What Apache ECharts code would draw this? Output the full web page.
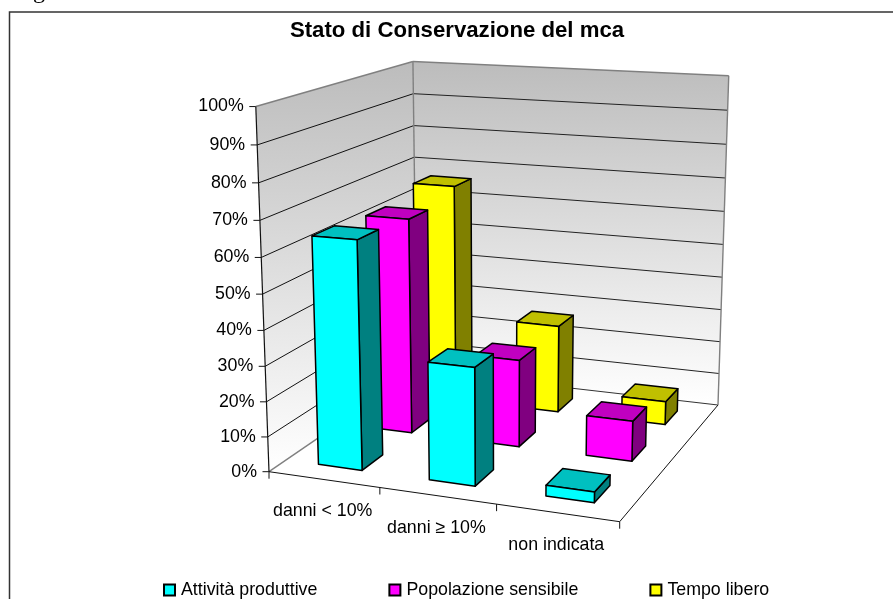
<!DOCTYPE html>
<html><head><meta charset="utf-8">
<style>html,body{margin:0;padding:0;background:#fff;overflow:hidden}#c{width:893px;height:599px}</style>
<script src="https://cdn.jsdelivr.net/npm/echarts@6/dist/echarts.min.js"></script>
</head><body><div id="c"></div>
<script>
const categories = ['danni < 10%', 'danni ≥ 10%', 'non indicata'];
const seriesNames = ['Attività produttive', 'Popolazione sensibile', 'Tempo libero'];
const attivita = [64.5, 33, 3];
const popolazione = [63.3, 25.5, 11.6];
const tempo = [66.5, 26.6, 7];
const yTicks = [0, 10, 20, 30, 40, 50, 60, 70, 80, 90, 100];

const FONT = '"Liberation Sans", Arial, sans-serif';
const FS = 17.8;
const BOX = 300;                 // size of the hidden grid that holds the scales
const BAR = 0.40, DEPTH = 0.40;  // share of a category / row a bar takes
const palette = [
  {front:'#00ffff', side:'#008080', top:'#00c0c0'},
  {front:'#ff00ff', side:'#800080', top:'#c000c0'},
  {front:'#ffff00', side:'#808000', top:'#c0c000'}
];
// view calibration: where the plot box corners land on the page
const A=[269,471.7], B=[619.7,521.7], D=[718,405], C=[417,370.4];
const At=[255,106.7], Ct=[414,60.3], Dt=[728.3,77];

function makeProjection(){
  const [x0,y0]=A,[x1,y1]=B,[x2,y2]=D,[x3,y3]=C;
  const dx1=x1-x2,dx2=x3-x2,sx=x0-x1+x2-x3,dy1=y1-y2,dy2=y3-y2,sy=y0-y1+y2-y3;
  const den=dx1*dy2-dx2*dy1, g=(sx*dy2-dx2*sy)/den, h=(dx1*sy-sx*dy1)/den;
  const a=x1-x0+g*x1,b=x3-x0+h*x3,c=x0,d=y1-y0+g*y1,e=y3-y0+h*y3,f=y0;
  // solve the height column by least squares from the three known top corners
  const rows=[],rhs=[];
  [[0,0,At],[0,1,Ct],[1,1,Dt]].forEach(([s,t,P])=>{
    const u=a*s+b*t+c,v=d*s+e*t+f,w=g*s+h*t+1;
    rows.push([1,0,-P[0]]);rhs.push(P[0]*w-u);
    rows.push([0,1,-P[1]]);rhs.push(P[1]*w-v);
  });
  const M=[0,1,2].map(i=>[0,1,2].map(j=>rows.reduce((q,r)=>q+r[i]*r[j],0)).concat(rows.reduce((q,r,k)=>q+r[i]*rhs[k],0)));
  for(let i=0;i<3;i++){
    let p=i;for(let k=i+1;k<3;k++)if(Math.abs(M[k][i])>Math.abs(M[p][i]))p=k;
    [M[i],M[p]]=[M[p],M[i]];
    for(let k=0;k<3;k++)if(k!==i){const m=M[k][i]/M[i][i];for(let j=i;j<4;j++)M[k][j]-=m*M[i][j];}
  }
  const zu=M[0][3]/M[0][0],zv=M[1][3]/M[1][1],zw=M[2][3]/M[2][2];
  return (s,t,z)=>{const w=g*s+h*t+1+zw*z;return [(a*s+b*t+c+zu*z)/w,(d*s+e*t+f+zv*z)/w];};
}
const P=makeProjection();

function poly(points,fill,stroke,lw){
  return {type:'polygon',shape:{points},style:{fill,stroke:stroke||'#000',lineWidth:lw==null?1.5:lw,lineJoin:'round'}};
}
function seg(p,q,stroke,lw){
  return {type:'line',shape:{x1:p[0],y1:p[1],x2:q[0],y2:q[1]},style:{stroke,lineWidth:lw||1,fill:null}};
}
function label(text,x,y,align){
  return {type:'text',x,y,style:{text,fill:'#000',font:FS+'px '+FONT,align,verticalAlign:'middle'}};
}

function renderBar(rowIndex){
  return function(params,api){
    const pt=api.coord([api.value(0),api.value(1)]);
    const catW=api.size([1,0])[0]/BOX;
    const sc=pt[0]/BOX, h=1-pt[1]/BOX;
    const s0=sc-catW*BAR/2,s1=sc+catW*BAR/2;
    const t0=(rowIndex+0.5-DEPTH/2)/3,t1=(rowIndex+0.5+DEPTH/2)/3;
    const c=palette[rowIndex];
    return {type:'group',children:[
      poly([P(s1,t0,0),P(s1,t1,0),P(s1,t1,h),P(s1,t0,h)],c.side),
      poly([P(s0,t0,h),P(s1,t0,h),P(s1,t1,h),P(s0,t1,h)],c.top),
      poly([P(s0,t0,0),P(s1,t0,0),P(s1,t0,h),P(s0,t0,h)],c.front)
    ]};
  };
}

function renderFrame(params,api){
  const ch=[];
  const wall=()=>new echarts.graphic.LinearGradient(0,0,0,1,[{offset:0,color:'#bcbcbc'},{offset:1,color:'#ffffff'}]);
  ch.push({type:'polygon',shape:{points:[P(0,0,0),P(0,1,0),P(0,1,1),P(0,0,1)]},style:{fill:wall()}});
  ch.push({type:'polygon',shape:{points:[P(0,1,0),P(1,1,0),P(1,1,1),P(0,1,1)]},style:{fill:wall()}});
  yTicks.forEach(v=>{
    const z=1-api.coord([0,v])[1]/BOX;
    if(v>0&&v<100){
      ch.push(seg(P(0,0,z),P(0,1,z),'#111',1));
      ch.push(seg(P(0,1,z),P(1,1,z),'#222',1));
    }
    const q=P(0,0,z);
    ch.push(seg([q[0]-6.5,q[1]],q,'#111',1));
    ch.push(label(v+'%',q[0]-12,q[1],'right'));
  });
  ch.push(seg(P(0,1,0),P(1,1,0),'#333',1));
  ch.push(seg(P(0,0,1),P(0,1,1),'#808080',1.6));
  ch.push(seg(P(0,1,1),P(1,1,1),'#808080',1.6));
  ch.push(seg(P(0,1,0),P(0,1,1),'#808080',1.4));
  ch.push(seg(P(1,1,0),P(1,1,1),'#808080',1.4));
  ch.push(seg(P(0,0,0),P(0,1,0),'#808080',1.4));
  ch.push(seg(P(0,0,0),P(0,0,1),'#111',1.2));
  ch.push(seg(P(0,0,0),P(1,0,0),'#111',1));
  ch.push(seg(P(1,0,0),P(1,1,0),'#111',1));
  const n=categories.length;
  for(let i=0;i<=n;i++){
    const q=P(i/n,0,0);
    ch.push(seg(q,[q[0],q[1]+7],'#111',1));
  }
  categories.forEach((name,i)=>{
    const sc=api.coord([i,0])[0]/BOX;
    const q=P(sc,0,0);
    ch.push(label(name,q[0]-1,q[1]+32,'center'));
  });
  return {type:'group',children:ch};
}

const rows=[attivita,popolazione,tempo];
const series=rows.map((vals,i)=>({
  type:'custom',name:seriesNames[i],z:5-i,clip:false,
  coordinateSystem:'cartesian2d',
  encode:{x:0,y:1},
  itemStyle:{color:palette[i].front,borderColor:'#000',borderWidth:1.5},
  renderItem:renderBar(i),
  data:vals.map((v,k)=>[k,v])
}));
series.unshift({type:'custom',name:'frame',z:1,silent:true,clip:false,coordinateSystem:'cartesian2d',
  encode:{x:0,y:1},renderItem:renderFrame,data:[[0,0]]});

const chart=echarts.init(document.getElementById('c'),null,{renderer:'canvas'});
chart.setOption({
  animation:false,
  backgroundColor:'#ffffff',
  title:{text:'Stato di Conservazione del mca',left:452,top:15,textAlign:'center',
    textStyle:{fontFamily:FONT,fontWeight:'bold',fontSize:22.2,color:'#000'}},
  grid:{left:0,top:0,width:BOX,height:BOX,show:false},
  xAxis:{type:'category',data:categories,show:false},
  yAxis:{type:'value',min:0,max:100,interval:10,show:false},
  legend:{data:seriesNames,left:163,top:581,padding:0,itemWidth:11,itemHeight:11,itemGap:71,icon:'rect',
    textStyle:{fontFamily:FONT,fontSize:FS,color:'#000',padding:[0,0,0,1]},selectedMode:false},
  graphic:[
    {type:'polyline',shape:{points:[[9.5,610],[9.5,12],[900,12]]},style:{stroke:'#333',lineWidth:1.5,fill:null},z:0},
    {type:'text',x:13,y:4,style:{text:'Figura',font:'24px "Liberation Serif", serif',fill:'#000',verticalAlign:'bottom'}}
  ],
  series
});
</script></body></html>
